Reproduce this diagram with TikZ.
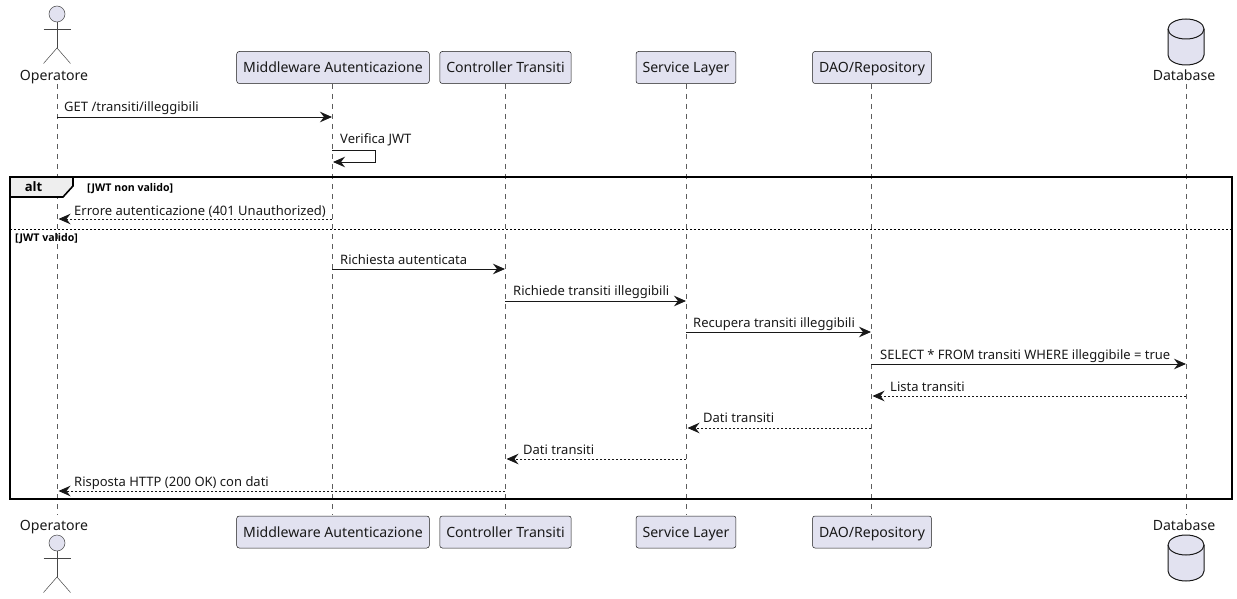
\documentclass[tikz,border=0pt]{standalone}
\usepackage{fontspec}
\setmainfont{Noto Sans}
\newfontfamily\guardfont{Open Sans}
\usetikzlibrary{arrows.meta, calc, positioning}
\definecolor{partfill}{HTML}{E2E2F0}
\definecolor{partline}{HTML}{181818}
\definecolor{tabfill}{HTML}{EEEEEE}
\tikzset{
    partbox/.style={draw=partline, fill=partfill, rounded corners=2.5pt, line width=.5pt,
        minimum height=32pt, inner xsep=6.5pt, inner ysep=0pt, text height=12pt, text depth=2pt,
        font=\fontsize{14.1pt}{16pt}\selectfont, text=black!90},
    partlabel/.style={inner sep=0pt, anchor=base, font=\fontsize{14.1pt}{16pt}\selectfont, text=black!90},
    lifeline/.style={draw=partline!70, line width=.5pt, dash pattern=on 5pt off 5pt},
    msg/.style={draw=partline, line width=.9pt, -{Stealth[length=12pt,width=10.5pt,inset=4pt]}},
    msgback/.style={msg, dash pattern=on 2pt off 2pt, shorten >=1.5pt},
    msglabel/.style={inner sep=0pt, anchor=base west, font=\fontsize{13pt}{15pt}\selectfont, text=black!90},
    guardlabel/.style={inner sep=0pt, anchor=base west, font=\guardfont\fontsize{10.6pt}{12pt}\selectfont\bfseries},
    altframe/.style={draw=black, line width=1.6pt},
    stickman/.style={draw=partline!80, line width=.5pt},
    dbshape/.style={draw=partline, line width=1pt}
}
\newcommand{\stickfig}[2]{% centre x, head y
    \draw[stickman, fill=partfill] (#1,#2) circle (8);
    \draw[stickman] (#1,#2+8) -- (#1,#2+34);
    \draw[stickman] (#1-13.5,#2+15.5) -- (#1+13.5,#2+15.5);
    \draw[stickman] (#1-13.5,#2+49.5) -- (#1,#2+34) -- (#1+13.5,#2+49.5);
}
\newcommand{\dbfig}[2]{% centre x, top y
    \draw[dbshape, fill=partfill] (#1-18,#2+10) arc (180:360:18 and 10) -- (#1+18,#2+36)
        arc (0:180:18 and 10) -- cycle;
    \draw[dbshape] (#1-18,#2+10) arc (180:0:18 and 10);
}
\begin{document}
\begin{tikzpicture}[x=1pt, y=-1pt]
    \useasboundingbox (0,0) rectangle (1237,599);
    \def \yT {67.5}
    \def \yB {532}
    % lifelines
    \foreach \name/\x in {op/57,mw/332,ct/505,sv/686,da/871,db/1186}{
        \coordinate (\name t) at (\x,84);
        \coordinate (\name b) at (\x,515);
        \draw[lifeline] (\name t) -- (\name b);
    }
    % participants
    \node[partlabel] (opT) at (54,80.8) {Operatore};
    \node[partlabel] (opB) at (54,530) {Operatore};
    \node[partbox] (mwT) at (333,\yT) {Middleware Autenticazione};
    \node[partbox] (ctT) at (505.5,\yT) {Controller Transiti};
    \node[partbox] (svT) at (686,\yT) {Service Layer};
    \node[partbox] (daT) at (872,\yT) {DAO/Repository};
    \node[partlabel] (dbT) at (1184,80.8) {Database};
    \node[partbox] (mwB) at (333,\yB) {Middleware Autenticazione};
    \node[partbox] (ctB) at (505.5,\yB) {Controller Transiti};
    \node[partbox] (svB) at (686,\yB) {Service Layer};
    \node[partbox] (daB) at (872,\yB) {DAO/Repository};
    \node[partlabel] (dbB) at (1184,530) {Database};
    \stickfig{57}{14}
    \stickfig{57}{543}
    \dbfig{1186}{19}
    \dbfig{1186}{535}
    % alt frame
    \coordinate (altNW) at (10,177);
    \coordinate (altSE) at (1232,499);
    \draw[altframe, fill=tabfill] (10,177) -- (73,177) -- (73,186) -- (63,197) -- (10,197) -- cycle;
    \draw[altframe] (altNW) rectangle (altSE);
    \coordinate (sepW) at (10,229);
    \coordinate (sepE) at (1232,229);
    \draw[draw=black, line width=.8pt, dash pattern=on 2pt off 2pt] (sepW) -- (sepE);
    \node[inner sep=0pt, font=\guardfont\fontsize{13pt}{15pt}\selectfont\bfseries] (altT) at (33.5,187) {alt};
    \node[guardlabel] (g1) at (87,191) {[JWT non valido]};
    \node[guardlabel] (g2) at (15,241) {[JWT valido]};
    % messages
    \foreach \id/\from/\to/\y/\kind in {
        a/op/mw/117/msg, c/mw/op/219/msgback, d/mw/ct/269/msg, e/ct/sv/301/msg,
        f/sv/da/332/msg, g/da/db/364/msg, h/db/da/396/msgback, i/da/sv/428/msgback,
        j/sv/ct/459/msgback, k/ct/op/491/msgback}{
        \coordinate (\id1) at (\from t |- 0,\y);
        \coordinate (\id2) at (\to t |- 0,\y);
        \draw[\kind] (\id1) -- (\id2);
    }
    \coordinate (s1) at (332,150);
    \coordinate (s2) at (375.5,150);
    \coordinate (s3) at (375.5,162);
    \coordinate (s4) at (333,162);
    \draw[msg] (s1) -- (s2) -- (s3) -- (s4);
    \node[msglabel] (la) at (64,112) {GET /transiti/illeggibili};
    \node[msglabel] (lb) at (340,144) {Verifica JWT};
    \node[msglabel] (lc) at (74,215) {Errore autenticazione (401 Unauthorized)};
    \node[msglabel] (ld) at (340,264) {Richiesta autenticata};
    \node[msglabel] (le) at (513,295) {Richiede transiti illeggibili};
    \node[msglabel] (lf) at (693,327) {Recupera transiti illeggibili};
    \node[msglabel] (lg) at (880,359) {SELECT * FROM transiti WHERE illeggibile = true};
    \node[msglabel] (lh) at (890,391) {Lista transiti};
    \node[msglabel] (li) at (703,422) {Dati transiti};
    \node[msglabel] (lj) at (523,454) {Dati transiti};
    \node[msglabel] (lk) at (74,486) {Risposta HTTP (200 OK) con dati};
\end{tikzpicture}
\end{document}
